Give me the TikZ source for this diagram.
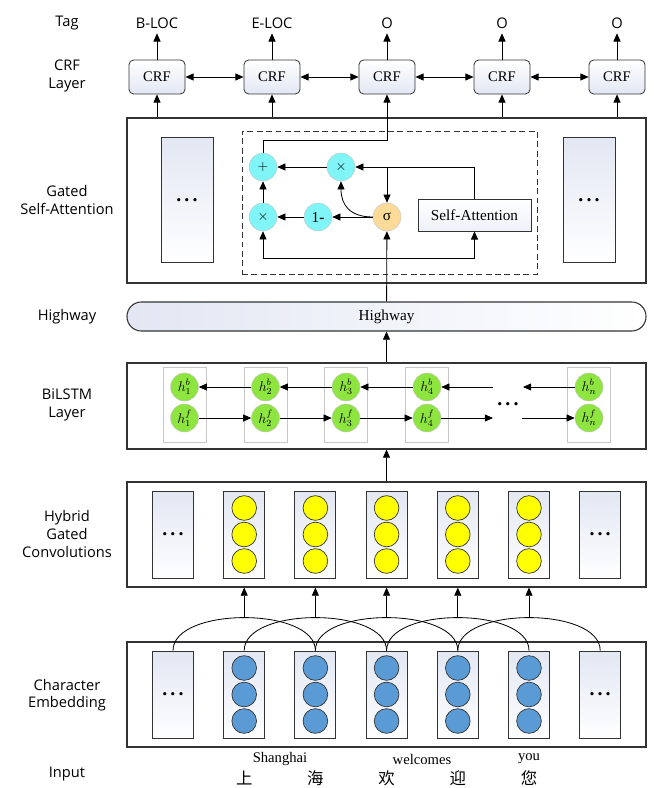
\documentclass[tikz,border=0pt]{standalone}
\usepackage{fontspec}
\setmainfont{Liberation Serif}
\setsansfont{Open Sans}
\newfontfamily\cjk{Noto Sans CJK SC}
\usetikzlibrary{arrows.meta,positioning,calc}
\definecolor{gsaqua}{HTML}{80F5F8}
\definecolor{gsorange}{HTML}{FCDB98}
\definecolor{gsgreen}{HTML}{8EE53F}
\definecolor{gsyellow}{HTML}{FFFF00}
\definecolor{gsblue}{HTML}{5B9BD5}
\definecolor{gsshade}{HTML}{E2E7F3}
\definecolor{gsline}{HTML}{333333}
\definecolor{gsring}{HTML}{C8C8C8}
\newcommand{\dotrow}{{\fontsize{17}{17}\selectfont\bfseries .\kern2.6pt.\kern2.6pt.}}

\begin{document}
\begin{tikzpicture}[x=0.03cm, y=-0.03cm,
  lbl/.style={align=center, font=\sffamily\fontsize{12.5}{15}\selectfont},
  tag/.style={inner sep=4pt, font=\sffamily\fontsize{12.5}{15}\selectfont},
  layer/.style={draw=gsline, line width=0.9pt, fill=white, minimum width=15.57cm},
  crf/.style={draw=gsline, line width=0.7pt, rounded corners=4pt, top color=white,
              bottom color=gsshade, minimum width=1.68cm, minimum height=1.02cm,
              font=\fontsize{12.5}{14}\selectfont},
  col/.style={draw=gsline, line width=0.7pt, top color=gsshade, bottom color=white,
              minimum width=1.23cm, minimum height=2.61cm},
  op/.style={circle, draw=gsring, fill=gsaqua, minimum size=0.84cm, inner sep=0pt,
             font=\fontsize{13}{14}\selectfont},
  gate/.style={op, fill=gsorange},
  sabox/.style={draw=gsline, line width=0.7pt, top color=white, bottom color=gsshade!60,
                minimum width=3.39cm, minimum height=0.96cm,
                font=\fontsize{13}{14}\selectfont},
  frame/.style={draw=gsring, line width=0.7pt, minimum width=1.29cm, minimum height=2.25cm},
  cell/.style={circle, draw=gsring, fill=gsgreen, minimum size=0.84cm, inner sep=0pt,
               font=\fontsize{12}{13}\selectfont},
  ydot/.style={circle, draw=gsline, line width=0.6pt, fill=gsyellow, minimum size=0.74cm},
  bdot/.style={ydot, fill=gsblue},
  word/.style={font=\fontsize{12.5}{14}\selectfont},
  zh/.style={inner sep=1pt, font=\cjk\fontsize{14}{15}\selectfont},
  link/.style={draw=black, line width=0.7pt},
  arr/.style={link, -{Triangle[length=7pt,width=6pt]}},
  dbl/.style={link, {Triangle[length=7pt,width=6pt]}-{Triangle[length=7pt,width=6pt]}}
]
  \useasboundingbox (0,0) rectangle (655,788);

  % row labels
  \node[lbl] (lt) at (67,23)  {Tag};
  \node[lbl] (lc) at (67,76)  {CRF\\Layer};
  \node[lbl] (lg) at (67,200) {Gated\\Self-Attention};
  \node[lbl] (lh) at (67,317) {Highway};
  \node[lbl] (lb) at (67,405) {BiLSTM\\Layer};
  \node[lbl] (lv) at (67,534) {Hybrid\\Gated\\Convolutions};
  \node[lbl] (le) at (67,695) {Character\\Embedding};
  \node[lbl] (li) at (67,774) {Input};

  % layer boxes
  \node[layer, minimum height=4.95cm] (gsa)  at (386.5,200.5) {};
  \node[layer, minimum height=0.87cm, rounded corners=0.43cm, fill=none,
        left color=gsshade, right color=white,
        font=\fontsize{13}{14}\selectfont] (hw) at (386.5,316.5) {Highway};
  \node[layer, minimum height=2.58cm] (bil)  at (386.5,406) {};
  \node[layer, minimum height=3.15cm] (conv) at (386.5,534.5) {};
  \node[layer, minimum height=3.15cm] (emb)  at (386.5,694.5) {};

  % CRF layer and tags
  \foreach \i/\t in {1/B-LOC,2/E-LOC,3/O,4/O,5/O} {
    \node[crf] (crf\i) at ({157+115*(\i-1)},77) {CRF};
    \node[tag] (tag\i) at ({157+115*(\i-1)},23) {\t};
    \draw[arr] (crf\i) -- (tag\i);
  }
  \foreach \i/\j in {1/2,2/3,3/4,4/5}
    \draw[dbl] (crf\i) -- (crf\j);
  \foreach \i in {1,2,4,5}
    \draw[arr] (crf\i |- gsa.north) -- (crf\i);

  % gated self-attention
  \node[col, minimum width=1.56cm, minimum height=3.75cm] (gl) at (187,200) {\dotrow};
  \node[col, minimum width=1.56cm, minimum height=3.75cm] (gr) at (589,200) {\dotrow};
  \node[draw=gsline, line width=0.8pt, dash pattern=on 5pt off 3pt,
        minimum width=8.85cm, minimum height=4.29cm] (gate) at (389.5,202.5) {};
  \node[op]   (plus) at (263,167) {$+$};
  \node[op]   (mtop) at (341,167) {$\times$};
  \node[op]   (mbot) at (263,217) {$\times$};
  \node[op]   (inv)  at (318,217) {1\textbf{-}};
  \node[gate] (sig)  at (387,217) {σ};
  \node[sabox] (satt) at (474.5,215) {Self-Attention};
  \coordinate (jt)   at (387,167);
  \coordinate (jb)   at (387,258);
  \coordinate (pout) at (387,140);

  \draw[arr] (satt) |- (mtop);
  \draw[arr] (jt) -- (sig);
  \draw[arr] (mtop) -- (plus);
  \draw[arr] (sig) -- (inv);
  \draw[arr] (inv) -- (mbot);
  \draw[arr] (mbot) -- (plus);
  \draw[arr] (sig.west) .. controls (350,217) and (341,205) .. (mtop.south);
  \draw[arr] (plus) |- (pout) -- (crf3);
  \draw[arr] (hw) -- (sig);
  \draw[arr] (jb) -| (mbot);
  \draw[arr] (jb) -| (satt);

  % BiLSTM
  \foreach \i/\x in {1/184.5,2/265.5,3/346,4/427,n/589} {
    \node[frame] (fr\i) at (\x,404.5) {};
    \node[cell]  (hb\i) at (\x,387) {$h_{\i}^{b}$};
    \node[cell]  (hf\i) at (\x,418) {$h_{\i}^{f}$};
  }
  \node (ldots) at (508,404) {\dotrow};
  \coordinate (bin)  at (493,387);
  \coordinate (bout) at (523,387);
  \coordinate (fout) at (493,418);
  \coordinate (fin)  at (522,418);
  \draw[arr] (hb2) -- (hb1);
  \draw[arr] (hb3) -- (hb2);
  \draw[arr] (hb4) -- (hb3);
  \draw[arr] (bin) -- (hb4);
  \draw[arr] (hbn) -- (bout);
  \draw[arr] (hf1) -- (hf2);
  \draw[arr] (hf2) -- (hf3);
  \draw[arr] (hf3) -- (hf4);
  \draw[arr] (hf4) -- (fout);
  \draw[arr] (fin) -- (hfn);

  \draw[arr] (bil) -- (hw);
  \draw[arr] (conv) -- (bil);

  % convolutions and embeddings
  \foreach \i in {0,6} {
    \node[col] (c\i) at ({173+71.2*\i},534.5) {\dotrow};
    \node[col] (e\i) at ({173+71.2*\i},694.5) {\dotrow};
  }
  \foreach \i in {1,...,5} {
    \node[col] (c\i) at ({173+71.2*\i},534.5) {};
    \node[col] (e\i) at ({173+71.2*\i},694.5) {};
    \foreach \k/\y in {a/0,b/1,c/2} {
      \node[ydot] (c\i\k) at ({173+71.2*\i},{508+26.5*\y}) {};
      \node[bdot] (e\i\k) at ({173+71.2*\i},{668+26.5*\y}) {};
    }
  }
  \foreach \a/\i/\b in {0/1/2,1/2/3,2/3/4,3/4/5,4/5/6} {
    \draw[link] (e\a.north) .. controls +(0,-44) and +(0,-44) .. (e\b.north);
    \coordinate (ap\i) at ({173+71.2*\i},618);
    \draw[arr] (ap\i) -- (c\i |- conv.south);
  }

  % input
  \node[word] (w1) at (280,759) {Shanghai};
  \node[word] (w2) at (422,759) {welcomes};
  \node[word] (w3) at (529,759) {you};
  \foreach \i/\z in {1/上,2/海,3/欢,4/迎,5/您}
    \node[zh] (z\i) at ({173+71.2*\i},778) {\z};
\end{tikzpicture}
\end{document}
